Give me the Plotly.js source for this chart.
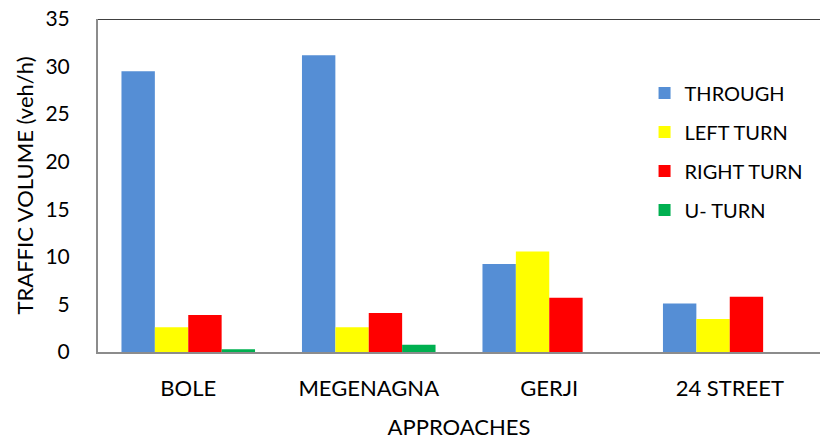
<!DOCTYPE html>
<html><head><meta charset="utf-8">
<script src="https://cdn.plot.ly/plotly-3.0.1.min.js"></script>
<style>body{margin:0;padding:0;background:#fff}#chart{width:820px;height:440px}</style>
</head><body><div id="chart"></div>
<script>
const categories = ["BOLE", "MEGENAGNA", "GERJI", "24 STREET"];
const through = [29.5, 31.2, 9.25, 5.1];
const leftTurn = [2.6, 2.6, 10.55, 3.47];
const rightTurn = [3.9, 4.1, 5.7, 5.8];
const uTurn = [0.28, 0.77, 0, 0];
const seriesNames = ["THROUGH", "LEFT TURN", "RIGHT TURN", "U- TURN"];
const seriesColors = ["#558ED5", "#FFFF00", "#FF0000", "#00B050"];
const yTicks = [0, 5, 10, 15, 20, 25, 30, 35];

const values = [through, leftTurn, rightTurn, uTurn];
const FONT = "Lato, 'Open Sans', sans-serif";
const traces = values.map((v, i) => ({
  type: "bar", x: categories, y: v, name: seriesNames[i],
  marker: {color: seriesColors[i], line: {width: 0}},
  legendgroup: "g" + i, hoverinfo: "none"
}));

const layout = {
  width: 820, height: 440,
  margin: {l: 98, r: 0, t: 19, b: 88},
  paper_bgcolor: "#fff", plot_bgcolor: "#fff",
  font: {family: FONT, color: "#000", size: 20},
  barmode: "group", bargap: 0.26, bargroupgap: 0,
  showlegend: true,
  legend: {x: 0.757, y: 0.836, xanchor: "left", yanchor: "top",
    font: {size: 20, family: FONT}, traceorder: "grouped", tracegroupgap: 10,
    itemwidth: 30, bgcolor: "rgba(0,0,0,0)"},
  xaxis: {
    showline: true, linecolor: "#8c8c8c", linewidth: 2,
    ticks: "outside", ticklen: 16, tickcolor: "rgba(0,0,0,0)",
    tickfont: {size: 22}, showgrid: false,
    title: {text: "APPROACHES", font: {size: 22}, standoff: 19}
  },
  yaxis: {
    range: [0, 35], tickvals: yTicks, showgrid: false, zeroline: false,
    showline: true, linecolor: "#8c8c8c", linewidth: 2,
    ticks: "outside", ticklen: 22, tickcolor: "rgba(0,0,0,0)",
    tickfont: {size: 21},
    title: {text: "TRAFFIC VOLUME (veh/h)", font: {size: 22}, standoff: 6}
  },
  shapes: [{type: "line", xref: "paper", yref: "y", x0: 0, x1: 1, y0: 35, y1: 35,
    line: {color: "#000", width: 1.5}}]
};
Plotly.newPlot("chart", traces, layout, {staticPlot: true, displayModeBar: false});
</script></body></html>
